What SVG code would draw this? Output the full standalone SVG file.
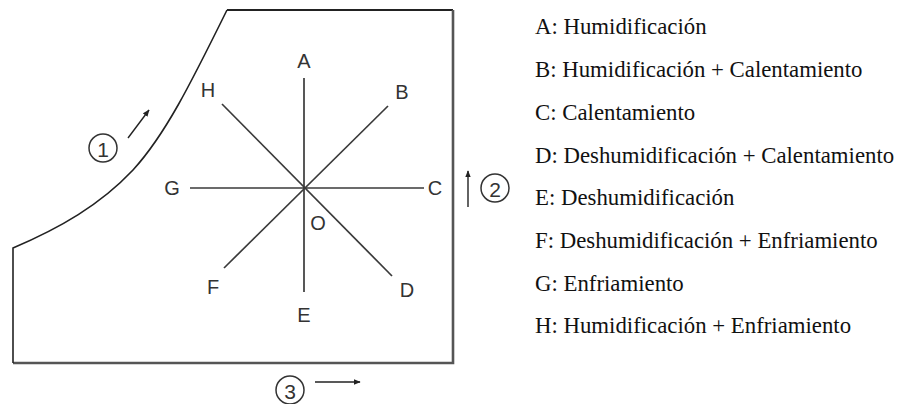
<svg xmlns="http://www.w3.org/2000/svg" width="897" height="404" viewBox="0 0 897 404">
<defs>
<marker id="ah" viewBox="0 0 10 10" refX="9" refY="5" markerWidth="7" markerHeight="7" orient="auto" markerUnits="userSpaceOnUse"><path d="M0,1 L10,5 L0,9 Z" fill="#222"/></marker>
<style>
.lbl{font-family:"Liberation Sans",Arial,sans-serif;font-size:20px;fill:#333;text-anchor:middle;dominant-baseline:central}
.leg{font-family:"Liberation Serif","Times New Roman",serif;font-size:22.8px;fill:#111}
.ax{stroke:#3a3a3a;stroke-width:1.7;fill:none}
.num{font-family:"Liberation Sans",Arial,sans-serif;font-size:21px;fill:#333;text-anchor:middle;dominant-baseline:central}
.circ{fill:none;stroke:#333;stroke-width:1.5}
.arr{stroke:#222;stroke-width:1.4;fill:none}
</style>
</defs>
<rect width="897" height="404" fill="#fff"/>
<g id="frame">
<path d="M227,10 L453,10" stroke="#222" stroke-width="2" fill="none"/>
<path d="M453,10 L453,363 L13,363" stroke="#555" stroke-width="2.6" fill="none"/>
<path d="M13,363 L13,248 C60,228 100,205 133,170 C165,135 190,85 227,10" stroke="#222" stroke-width="1.6" fill="none"/>
</g>
<g id="connectors">
<line class="ax" x1="304" y1="78" x2="304" y2="292"/>
<line class="ax" x1="190" y1="188" x2="424" y2="188"/>
<line class="ax" x1="222" y1="104" x2="392" y2="276"/>
<line class="ax" x1="224" y1="268" x2="388" y2="106"/>
</g>
<g id="labels">
<text class="lbl" x="304" y="61">A</text>
<text class="lbl" x="402" y="92">B</text>
<text class="lbl" x="435" y="188">C</text>
<text class="lbl" x="407" y="290">D</text>
<text class="lbl" x="304" y="315">E</text>
<text class="lbl" x="213" y="287">F</text>
<text class="lbl" x="172" y="188">G</text>
<text class="lbl" x="208" y="90">H</text>
<text class="lbl" x="318" y="223">O</text>
</g>
<g id="flow1">
<circle class="circ" cx="103" cy="148" r="14"/>
<text class="num" x="103" y="149">1</text>
<line class="arr" x1="128" y1="138" x2="149" y2="110" marker-end="url(#ah)"/>
</g>
<g id="flow2">
<circle class="circ" cx="495" cy="188" r="14"/>
<text class="num" x="495" y="189">2</text>
<line class="arr" x1="468" y1="207" x2="468" y2="171" marker-end="url(#ah)"/>
</g>
<g id="flow3">
<circle class="circ" cx="290" cy="390" r="14"/>
<text class="num" x="290" y="391">3</text>
<line class="arr" x1="315" y1="382" x2="360" y2="382" marker-end="url(#ah)"/>
</g>
<g id="legend">
<text class="leg" x="535" y="34">A: Humidificación</text>
<text class="leg" x="535" y="77">B: Humidificación + Calentamiento</text>
<text class="leg" x="535" y="120">C: Calentamiento</text>
<text class="leg" x="535" y="163">D: Deshumidificación + Calentamiento</text>
<text class="leg" x="535" y="205">E: Deshumidificación</text>
<text class="leg" x="535" y="248">F: Deshumidificación + Enfriamiento</text>
<text class="leg" x="535" y="291">G: Enfriamiento</text>
<text class="leg" x="535" y="333">H: Humidificación + Enfriamiento</text>
</g>
</svg>
